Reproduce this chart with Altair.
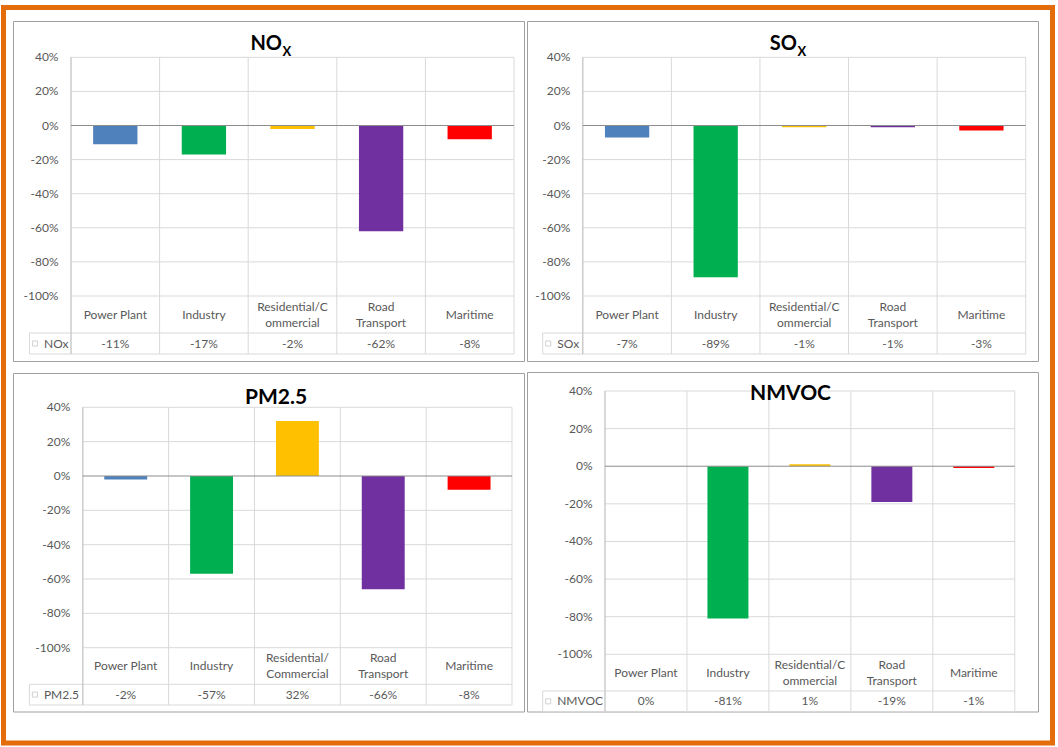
import altair as alt
import pandas as pd

# ---------------- data ----------------
categories = ["Power Plant", "Industry", "Residential/Commercial", "Road Transport", "Maritime"]
bar_colors = ["#4F81BD", "#00B050", "#FFC000", "#7030A0", "#FF0000"]
labels_a = ["Power Plant", "Industry", "Residential/C\nommercial", "Road\nTransport", "Maritime"]
labels_b = ["Power Plant", "Industry", "Residential/\nCommercial", "Road\nTransport", "Maritime"]

nox = [-11, -17, -2, -62, -8]
sox = [-7, -89, -1, -1, -3]
pm25 = [-2, -57, 32, -66, -8]
nmvoc = [0, -81, 1, -19, -1]

y_ticks = [40, 20, 0, -20, -40, -60, -80, -100]
y_tick_labels = ["40%", "20%", "0%", "-20%", "-40%", "-60%", "-80%", "-100%"]
grid_ticks = [40, 20, -20, -40, -60, -80, -100]

# ---------------- style ----------------
FONT = "Lato"
TXT = "#595959"
GRID = "#D9D9D9"
AXIS = "#C4C4C4"
ZERO = "#8C8C8C"
BORDER = "#A0A0A0"
ORANGE = "#E46C0A"
LINE_H = 16

one = pd.DataFrame({"k": [0]})


def hline(x, x2, y, color=GRID, w=1):
    return alt.Chart(one).mark_rule(color=color, strokeWidth=w).encode(
        x=alt.value(x), x2=alt.value(x2), y=alt.value(y))


def vline(x, y, y2, color=GRID, w=1):
    return alt.Chart(one).mark_rule(color=color, strokeWidth=w).encode(
        x=alt.value(x), y=alt.value(y), y2=alt.value(y2))


def label(text, x, y, **kw):
    return alt.Chart(one).mark_text(text=text, font=FONT, **kw).encode(
        x=alt.value(x), y=alt.value(y))


def panel(values, labels, series, title, geo):
    x0, ytop, x1, ybot = geo["plot"]
    bx0, by0, bx1, by1 = geo["box"]
    head, row1, row2 = geo["head"], geo["row1"], geo["row2"]

    df = pd.DataFrame({
        "cat": categories,
        "v": values,
        "zero": [0] * len(values),
        "lab": labels,
        "lines": [lab.count("\n") + 1 for lab in labels],
        "txt": [f"{v}%" for v in values],
    })
    ticks = pd.DataFrame({"t": y_ticks, "lab": y_tick_labels})
    grid = pd.DataFrame({"t": grid_ticks})
    zero = pd.DataFrame({"t": [0]})

    xs = alt.Scale(domain=categories, range=[x0, x1], paddingInner=0, paddingOuter=0)
    ys = alt.Scale(domain=[-100, 40], range=[ybot, ytop], nice=False, zero=False)
    cs = alt.Scale(domain=categories, range=bar_colors)

    cat_mid = (ybot + row1) / 2
    layers = []
    # panel border
    layers.append(alt.Chart(one).mark_rect(fill="white", stroke=BORDER, strokeWidth=1).encode(
        x=alt.value(bx0), x2=alt.value(bx1), y=alt.value(by0), y2=alt.value(by1)))
    # horizontal gridlines
    layers.append(alt.Chart(grid).mark_rule(color=GRID, strokeWidth=1).encode(
        y=alt.Y("t:Q", scale=ys, axis=None), x=alt.value(x0), x2=alt.value(x1)))
    # vertical category boundaries through the table
    layers.append(alt.Chart(df).mark_rule(color=GRID, strokeWidth=1).encode(
        x=alt.X("cat:N", scale=xs, axis=None, bandPosition=0),
        y=alt.value(ytop), y2=alt.value(row2)))
    layers.append(vline(x1, ytop, row2))
    # table lines
    layers.append(hline(head, x1, row1))
    layers.append(hline(head, x1, row2))
    layers.append(vline(head, row1, row2))
    # y axis line
    layers.append(vline(x0, ytop, row2, AXIS))
    # bars
    layers.append(alt.Chart(df).mark_bar(width={"band": 0.5}).encode(
        x=alt.X("cat:N", scale=xs, axis=None),
        y=alt.Y("v:Q", scale=ys, axis=None),
        y2="zero:Q",
        color=alt.Color("cat:N", scale=cs, legend=None)))
    # zero line
    layers.append(alt.Chart(zero).mark_rule(color=ZERO, strokeWidth=1).encode(
        y=alt.Y("t:Q", scale=ys, axis=None), x=alt.value(x0), x2=alt.value(x1)))
    # y tick labels
    layers.append(alt.Chart(ticks).mark_text(
        font=FONT, fontSize=12, color=TXT, align="right", baseline="middle").encode(
        y=alt.Y("t:Q", scale=ys, axis=None), text="lab:N", x=alt.value(x0 - 12.5)))
    # category labels (single-line and two-line rows, each block centred in its cell)
    for n in (1, 2):
        layers.append(alt.Chart(df).transform_filter(alt.datum.lines == n).mark_text(
            font=FONT, fontSize=12, color=TXT, align="center", baseline="middle",
            lineBreak="\n", lineHeight=LINE_H).encode(
            x=alt.X("cat:N", scale=xs, axis=None), text="lab:N",
            y=alt.value(cat_mid - (n - 1) * LINE_H / 2)))
    # value row
    layers.append(alt.Chart(df).mark_text(
        font=FONT, fontSize=12, color=TXT, align="center", baseline="middle").encode(
        x=alt.X("cat:N", scale=xs, axis=None), text="txt:N",
        y=alt.value((row1 + row2) / 2)))
    # series header with empty legend key
    layers.append(alt.Chart(one).mark_point(
        shape="square", size=26, filled=False, stroke="#BFBFBF", strokeWidth=1).encode(
        x=alt.value(head + 5.5), y=alt.value((row1 + row2) / 2)))
    layers.append(label(series, head + 14.5, (row1 + row2) / 2, fontSize=12, color=TXT,
                        align="left", baseline="middle"))
    # title
    if title.get("sub"):
        tx, ty = title["x"], title["y"]
        layers.append(label(title["main"], tx, ty, fontSize=title["size"], fontWeight="bold",
                            color="black", align="right", baseline="alphabetic"))
        layers.append(label(title["sub"], tx + 0.5, ty + 5.5, fontSize=13, fontWeight="bold",
                            color="black", align="left", baseline="alphabetic"))
    else:
        layers.append(label(title["main"], title["x"], title["y"], fontSize=title["size"],
                            fontWeight="bold", color="black", align="center",
                            baseline="alphabetic"))
    return alt.layer(*layers)


p1 = panel(nox, labels_a, "NOx",
           {"main": "NO", "sub": "X", "x": 282, "y": 50, "size": 20},
           {"box": (13.5, 21.5, 524.5, 361.5), "plot": (71, 57.3, 514, 296),
            "head": 29.5, "row1": 333, "row2": 354})
p2 = panel(sox, labels_a, "SOx",
           {"main": "SO", "sub": "X", "x": 797, "y": 50, "size": 20},
           {"box": (527.5, 21.5, 1038.5, 361.5), "plot": (582.8, 57.3, 1025.7, 296),
            "head": 542.7, "row1": 333, "row2": 354})
p3 = panel(pm25, labels_b, "PM2.5",
           {"main": "PM2.5", "x": 276, "y": 403.5, "size": 21},
           {"box": (13.5, 373.5, 524.5, 712), "plot": (82.8, 407.3, 512, 647.7),
            "head": 29.4, "row1": 684.3, "row2": 705})
p4 = panel(nmvoc, labels_a, "NMVOC",
           {"main": "NMVOC", "x": 790.5, "y": 400, "size": 21},
           {"box": (527.5, 372.5, 1038.5, 712), "plot": (605, 391, 1014.8, 654.3),
            "head": 542.7, "row1": 691, "row2": 711.7})

frame = alt.Chart(one).mark_rect(fill="transparent", stroke=ORANGE, strokeWidth=5).encode(
    x=alt.value(3.5), x2=alt.value(1052.5), y=alt.value(7.5), y2=alt.value(743))

chart = alt.layer(p1, p2, p3, p4, frame).resolve_scale(
    x="independent", y="independent"
).properties(
    width=1058, height=747, padding=0, autosize=alt.AutoSizeParams(type="none"),
    background="white"
).configure_view(strokeWidth=0)

chart.save("out.html", embed_options={"renderer": "svg", "actions": False})
